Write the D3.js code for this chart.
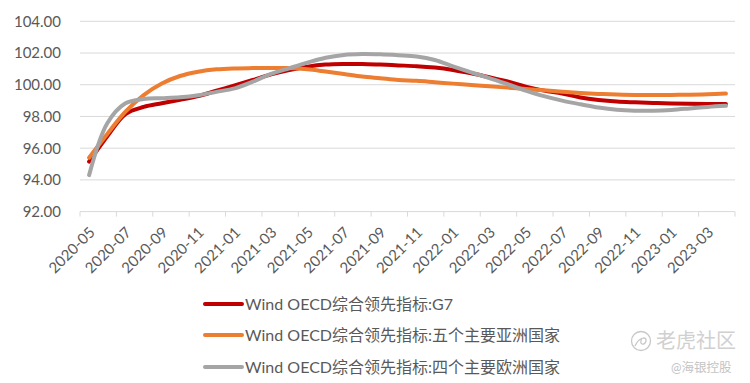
<!DOCTYPE html>
<html>
<head>
<meta charset="utf-8">
<script src="https://cdn.jsdelivr.net/npm/d3@7/dist/d3.min.js"></script>
<style>
  html, body { margin: 0; padding: 0; background: #fff; }
  svg { display: block; font-family: Lato, "Noto Sans CJK SC", sans-serif; }
</style>
</head>
<body>
<svg id="chart" width="750" height="383"></svg>
<script>
const months = [];
for (let y = 2020, m = 5; months.length < 36; ) {
  months.push(y + "-" + String(m).padStart(2, "0"));
  m++; if (m > 12) { m = 1; y++; }
}
const yTicks = [92, 94, 96, 98, 100, 102, 104];

const seriesNames = [
  "Wind OECD综合领先指标:G7",
  "Wind OECD综合领先指标:五个主要亚洲国家",
  "Wind OECD综合领先指标:四个主要欧洲国家"
];
const g7 = [95.15, 96.75, 98.15, 98.6, 98.83, 99.05, 99.28, 99.62, 99.95, 100.3, 100.65, 100.93,
  101.14, 101.27, 101.31, 101.31, 101.27, 101.22, 101.17, 101.08, 100.93, 100.72, 100.47, 100.2,
  99.88, 99.63, 99.45, 99.2, 99.04, 98.94, 98.89, 98.85, 98.82, 98.8, 98.79, 98.78];
const asia5 = [95.4, 96.9, 98.3, 99.35, 100.08, 100.55, 100.82, 100.97, 101.03, 101.05, 101.06, 101.05,
  100.97, 100.83, 100.68, 100.52, 100.41, 100.3, 100.25, 100.16, 100.07, 99.99, 99.9, 99.82,
  99.73, 99.65, 99.56, 99.48, 99.42, 99.38, 99.36, 99.36, 99.36, 99.37, 99.4, 99.44];
const europe4 = [94.3, 97.57, 98.83, 99.1, 99.15, 99.21, 99.34, 99.55, 99.77, 100.19, 100.68, 101.04,
  101.39, 101.7, 101.88, 101.94, 101.92, 101.86, 101.78, 101.56, 101.16, 100.78, 100.42, 100.03,
  99.63, 99.28, 99.0, 98.77, 98.56, 98.42, 98.36, 98.36, 98.41, 98.5, 98.6, 98.67];
const colors = ["#C00000", "#ED7D31", "#A5A5A5"];
const allSeries = [g7, asia5, europe4];

const svg = d3.select("#chart");
const x = d3.scaleBand().domain(months).range([80, 735]).paddingInner(0).paddingOuter(0);
const y = d3.scaleLinear().domain([92, 104]).range([211.6, 21.3]);

// gridlines
svg.append("g").selectAll("line").data(yTicks.filter(d => d > 92)).join("line")
  .attr("x1", 80).attr("x2", 735)
  .attr("y1", d => y(d)).attr("y2", d => y(d))
  .attr("stroke", "#d9d9d9").attr("stroke-width", 1);

// y labels
svg.append("g").selectAll("text").data(yTicks).join("text")
  .attr("x", 61).attr("y", d => y(d)).attr("dy", "0.36em")
  .attr("text-anchor", "end").attr("font-size", 15).attr("fill", "#595959")
  .text(d => d.toFixed(2));

// x axis line
svg.append("line").attr("x1", 80).attr("x2", 735).attr("y1", y(92)).attr("y2", y(92))
  .attr("stroke", "#d9d9d9").attr("stroke-width", 1);
// ticks at category boundaries every 2 categories
const tickIdx = d3.range(0, 37, 2);
svg.append("g").selectAll("line").data(tickIdx).join("line")
  .attr("x1", i => 80 + i * x.step()).attr("x2", i => 80 + i * x.step())
  .attr("y1", y(92)).attr("y2", y(92) + 5)
  .attr("stroke", "#d9d9d9").attr("stroke-width", 1);

// x labels
svg.append("g").selectAll("text").data(months.filter((d, i) => i % 2 === 0)).join("text")
  .attr("transform", d => `translate(${x(d) + x.bandwidth() / 2 + 3},${y(92) + 18}) rotate(-45)`)
  .attr("text-anchor", "end").attr("dy", "0.35em")
  .attr("font-size", 15).attr("fill", "#595959")
  .text(d => d);

// lines
const line = d3.line()
  .x((d, i) => x(months[i]) + x.bandwidth() / 2)
  .y(d => y(d))
  .curve(d3.curveCatmullRom.alpha(0.5));
allSeries.forEach((s, k) => {
  svg.append("path").datum(s)
    .attr("d", line)
    .attr("fill", "none").attr("stroke", colors[k])
    .attr("stroke-width", 4).attr("stroke-linecap", "round").attr("stroke-linejoin", "round");
});

// legend
const legY = [304, 335, 367];
seriesNames.forEach((name, k) => {
  svg.append("line").attr("x1", 205).attr("x2", 242).attr("y1", legY[k]).attr("y2", legY[k])
    .attr("stroke", colors[k]).attr("stroke-width", 4).attr("stroke-linecap", "round");
  svg.append("text").attr("x", 245).attr("y", legY[k]).attr("dy", "0.35em")
    .attr("font-size", 16).attr("fill", "#595959").text(name);
});

// watermark
const wm = svg.append("g").attr("fill", "none");
wm.append("circle").attr("cx", 641).attr("cy", 341).attr("r", 9.5)
  .attr("stroke", "#c8c8c8").attr("stroke-width", 1.3);
wm.append("path").attr("d", "M635,346 C639,337 647,336 646,341 C645,346 638,345 642,338")
  .attr("stroke", "#c8c8c8").attr("stroke-width", 1.3);
svg.append("text").attr("x", 656).attr("y", 341).attr("dy", "0.36em")
  .attr("font-size", 20).attr("fill", "#d0d0d0")
  .text("老虎社区");
svg.append("text").attr("x", 671).attr("y", 367).attr("dy", "0.36em")
  .attr("font-size", 12.5).attr("fill", "#c4c4c4")
  .text("@海银控股");
</script>
</body>
</html>
